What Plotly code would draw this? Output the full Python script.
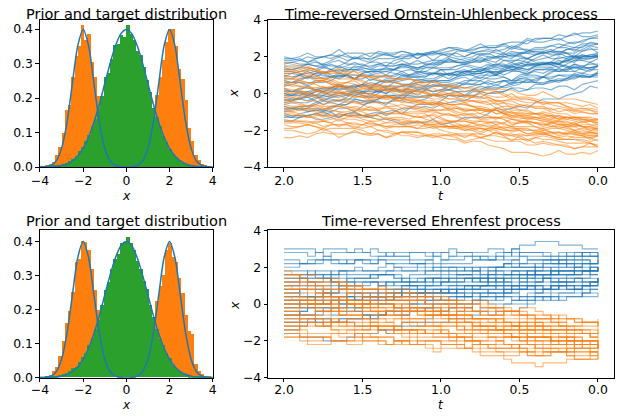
import plotly.graph_objects as go
import numpy as np

# ---------------- data ----------------
BIN_EDGES = [round(-3.9 + 0.15 * i, 3) for i in range(53)]

TARGET_HIST_TOP = [0.000, 0.003, 0.008, 0.015, 0.035, 0.058, 0.098, 0.165, 0.180, 0.262, 0.322, 0.352, 0.412,
                   0.368, 0.386, 0.305, 0.262, 0.205, 0.132, 0.078, 0.045, 0.020, 0.008, 0.003, 0.001, 0.000,
                   0.000, 0.001, 0.003, 0.007, 0.018, 0.040, 0.070, 0.118, 0.165, 0.210, 0.262, 0.310, 0.362,
                   0.400, 0.400, 0.352, 0.285, 0.255, 0.195, 0.112, 0.075, 0.035, 0.020, 0.008, 0.004, 0.001]
PRIOR_HIST_TOP = [0.001, 0.001, 0.002, 0.003, 0.004, 0.006, 0.009, 0.013, 0.018, 0.024, 0.033, 0.045, 0.058,
                  0.075, 0.092, 0.118, 0.138, 0.172, 0.205, 0.262, 0.272, 0.312, 0.355, 0.358, 0.382, 0.378,
                  0.412, 0.385, 0.368, 0.335, 0.325, 0.290, 0.252, 0.218, 0.170, 0.145, 0.118, 0.090, 0.072,
                  0.052, 0.038, 0.028, 0.020, 0.012, 0.008, 0.006, 0.004, 0.002, 0.001, 0.001, 0.000, 0.000]
TARGET_HIST_BOT = [0.000, 0.002, 0.006, 0.018, 0.030, 0.062, 0.105, 0.158, 0.195, 0.250, 0.338, 0.345, 0.400,
                   0.395, 0.372, 0.318, 0.255, 0.198, 0.140, 0.082, 0.040, 0.022, 0.009, 0.003, 0.001, 0.000,
                   0.000, 0.001, 0.002, 0.008, 0.016, 0.036, 0.075, 0.125, 0.158, 0.222, 0.268, 0.300, 0.372,
                   0.392, 0.352, 0.338, 0.290, 0.248, 0.182, 0.135, 0.128, 0.040, 0.018, 0.010, 0.003, 0.001]
PRIOR_HIST_BOT = [0.000, 0.001, 0.002, 0.002, 0.004, 0.007, 0.008, 0.012, 0.019, 0.026, 0.031, 0.044, 0.060,
                  0.072, 0.095, 0.115, 0.142, 0.168, 0.212, 0.255, 0.280, 0.318, 0.345, 0.362, 0.392, 0.395,
                  0.410, 0.392, 0.372, 0.340, 0.318, 0.282, 0.258, 0.212, 0.175, 0.140, 0.112, 0.093, 0.070,
                  0.055, 0.036, 0.027, 0.019, 0.013, 0.009, 0.005, 0.003, 0.002, 0.001, 0.001, 0.000, 0.000]

DENS_X = [-4.0, -3.75, -3.5, -3.25, -3.0, -2.75, -2.5, -2.25, -2.0, -1.75, -1.5, -1.25, -1.0, -0.75, -0.5,
          -0.25, 0.0, 0.25, 0.5, 0.75, 1.0, 1.25, 1.5, 1.75, 2.0, 2.25, 2.5, 2.75, 3.0, 3.25, 3.5, 3.75, 4.0]
TARGET_DENS = [0.0001, 0.0009, 0.0044, 0.0175, 0.0540, 0.1295, 0.2420, 0.3520, 0.3989, 0.3520, 0.2420, 0.1295,
               0.0540, 0.0175, 0.0044, 0.0009, 0.0003, 0.0009, 0.0044, 0.0175, 0.0540, 0.1295, 0.2420, 0.3520,
               0.3989, 0.3520, 0.2420, 0.1295, 0.0540, 0.0175, 0.0044, 0.0009, 0.0001]
PRIOR_DENS = [0.0001, 0.0004, 0.0009, 0.0020, 0.0044, 0.0091, 0.0175, 0.0317, 0.0540, 0.0863, 0.1295, 0.1826,
              0.2420, 0.3011, 0.3521, 0.3867, 0.3989, 0.3867, 0.3521, 0.3011, 0.2420, 0.1826, 0.1295, 0.0863,
              0.0540, 0.0317, 0.0175, 0.0091, 0.0044, 0.0020, 0.0009, 0.0004, 0.0001]

# sample paths, run from t = 2.0 down to t = 0.0; start value in tenths of x, then 40 increments,
# digit d meaning (d - 4) tenths
T_START, T_END = 2.0, 0.0

OU_BLUE_START = [20, 13, 5, -3, -10, 0, 9, -15, 17, 3, -6, 11, 7, -1, 16, -12, 4, -7,
                 14, 1, 19, -4, 8, -2, 12, -9, 6, 10, -5, 2, 15, -13, -8, 18, 0, -11]
OU_BLUE_STEPS = [
    "3562457126543344631752463526734244532761", "4563534672364464275463355545267354366245",
    "5426457334634562553644632753462554376245", "3645625543642754357346526345265437447255",
    "5546633673445427643545736255365446724364", "3462164553367244556326544635274364534536",
    "6327455373364454624635556372256445265473", "4655366427734543556354374662557236446445",
    "4563553644273453166245265433634535274354", "2643543562457334554663442752643645257354",
    "5446635536276445733546556344723754266455", "4553366244256354354672445327364355624534",
    "3654624573442735346316455364253644524337", "4536556246275473446355364564267243553754",
    "5345366255274463354654336445267345523655", "3452456344365527644673543645625543642755",
    "5536466327544573356444456237542655434663", "3425431652334325446155644673553764465573",
    "3543622645345363174445533625624454433526", "4562365444632755354653644526375444637236",
    "4335165244265362455463352744533662451634", "5436456273445526634535644653275536445472",
    "4655633645642754734555366246543744635545", "3452264543366254446355274635645345367244",
    "4326523544165362455434634526532744366245", "5546643673455527645446635537446445733655",
    "4563543627554464354662457336544355642745", "3562435426455334634436524527633544541645",
    "5564467355366455453746556364375546365464", "3426455343623644542563455527443653644535",
    "4453362562453453274463354652443662454354", "4655366473455546276455376446547355366445",
    "4354364562552764354653456336554472544637", "4526536334456236445427435535632645533644",
    "3645546246733555446327544635645345365545", "3445523643552664453655467354643745556346",
]
OU_ORANGE_START = [-20, 10, -5, 3, 17, -12, 6, -1, -17, 12, -8, 1, -24, 8, -3, -14, 4, -10,
                   15, -6, 0, -19, 9, -2, 5, 13, -9, 2, -15, 7, -4, 11, -7, -11, 14, -16]
OU_ORANGE_STEPS = [
    "4335621653442563345435264362174552336444", "3452432562334416523543245334614325443352",
    "4335245334622543441652334425633442532534", "3425436233445224354315345342254334623352",
    "3342253451432433524234244315335242342443", "4435432652346325433524533462254433534326",
    "4534524326334425433452243543163442532534", "3543245334624325334452344326245334423543",
    "3453254443263354423543255334442453433562", "4553346243253344245243342553423462244333",
    "3543263453254443346224433552344425433353", "3443255233442453433442352443155334254233",
    "4536534462352654433453443562432653344435", "4334522533444235245334254315423353243443",
    "3645534434254362335234432624533543254434", "3443254433524324354334254233244335624536",
    "5334454326355243442534436224533443332542", "4335263453442543623443245335344253254335",
    "3443255233424424533443253352244334422533", "3425433352442443353442335324432534334442",
    "4536433452254433432634432453253442354333", "4553364426355443623445365344274335542645",
    "3452432633442543342453433524423344254334", "4334255343244435335243253453244235433344",
    "3443523325444235244333254352243433425325", "3342342451432533423424334315423433244342",
    "3543245334432633524434254342353453244333", "3643253453424435244334523343254434245333",
    "4435436234532544364334532643453452354344", "3443245233432534423533244352342543334234",
    "4325345333442443354234432533522443353442", "4553344326345244334325344333244333423443",
    "3544264353346225444334532544334326345243", "4334255343243543345233442543344253342544",
    "3342253443243352423424433351344225433324", "4435532643623444533543342653442535436234",
]
EHR_BLUE_START = [28, 14, 2, -6, 8, -14, 18, 0, 10, -10, 24, 4, -2, 12, -16, 6, -4, 16,
                  2, 20, -8, 10, -12, 8, 0, 22, -6, 14, 4, -2, 16, 6, -10, 12, 2, 30]
EHR_BLUE_STEPS = [
    "4426644244622446442662424464264442624624", "4644266444466244642644466266664644244244",
    "4446622464442646426444264662644246442666", "4664442646626442464464462644646246246446",
    "4462462664444246626446442664424662446426", "4664264644646246644266464464264664624644",
    "4426426462444624624464264446624264442646", "4264462644644662444626644446246462464464",
    "4462462444642642466244462664446246246446", "4642446446266444462464466244644626644246",
    "4244642644466242442664424462462444266442", "4446626424464464264664444246626446442664",
    "4442466426444246626446446426464264624644", "4662424426426444462444624626424464246246",
    "4244244664462664464464466264466664264664", "4644266442466462464464462664444662644642",
    "4246644426464264466246644446626446422466", "4224466244644224464426426446446246644224",
    "4244466426424664446246446426466244644244", "4664424462462444422644422664444246626424",
    "4644624642446426466444466426426446446264", "4664422644422446446246642644464264444662",
    "4664424424424664466446626446446642644644", "4224466444424664264664444662644644466426",
    "4662644244462444642646644246446426464264", "4446624264264442466244642446624442644644",
    "4664444626644662644446644662644644646646", "4424624644644226444662424644642642644446",
    "4442264662446424464462464442644626644446", "4644642646624464464264464462466446446446",
    "4462464244266444424644642646424464624624", "4244624644244664264446426444264662446442",
    "4446426446266446446446626446426446644466", "4644624264464426466442446446266444466246",
    "4446644226464464424664444662466424464464", "4442264462244644426426444642624424464442",
]
EHR_ORANGE_START = [-18, 16, -6, 4, -12, 10, 0, -14, 18, -2, 6, -10, 12, -4, 2, -16, 8, -8,
                    14, -6, 0, -18, 6, -12, 2, 10, -8, 4, -14, 12, -4, 8, -10, 16, -2, 0]
EHR_ORANGE_STEPS = [
    "4424624246442642644442624424464244266442", "4224442262422446422442262442442242244642",
    "4244262442624424424624424426422444624224", "2442442642244642244442224424624224444226",
    "4224444426244244264244222442244264464462", "4244246242244442244642244422422624424424",
    "4442262442462442442442262442442442622442", "4224424446422462422644442442462446442462",
    "2442442242462442264224444224224246244244", "4462422446424424422642244442262442442442",
    "4224464224444226244244422462422442442246", "4644422442624442244426422444422646422444",
    "4244244226422444422442224424424624422442", "4642442442442624424442622442442442462422",
    "4446624244244226424424424442262442444246", "4244462462444246244244264224444264422446",
    "4442244642442624424424424642244442262442", "4244264224464244246242244442264224464424",
    "4224464224442242462442442422422642244442", "4442244642244244264224422244422446422444",
    "4642446224424426422442442442462442224442", "4224464462424624442642462444622446426444",
    "4244244246244226444224424422424624424424", "4462424424464226442442442462424624424426",
    "4424424626422444426224444224464224444224", "2442224442244642244222424424422442462242",
    "4446422644244262444224464244242642442462", "4224442642244642244442242244424624422444",
    "4644422644622446424442244644422624464244", "4442244642442442264224444224464222442442",
    "4246442442264442244442244642244442242642", "4424422246424424422642244442224624424424",
    "4442624624444226424424464244246242442446", "4224442242244642224424422446422244422442",
    "4644422462424424464224424426422442442442", "4446426244244642442642442446422444624246",
]

TITLE_LEFT = "Prior and target distribution"
TITLE_OU = "Time-reversed Ornstein-Uhlenbeck process"
TITLE_EHR = "Time-reversed Ehrenfest process"

# ---------------- figure ----------------
W, H = 618, 416
BLUE, ORANGE, GREEN = "#1f77b4", "#ff7f0e", "#2ca02c"
FONT = "DejaVu Sans"

edges = np.array(BIN_EDGES)
centers = (edges[:-1] + edges[1:]) / 2
widths = np.diff(edges)

fig = go.Figure()


def add_hist(target, prior, xa, ya):
    fig.add_trace(go.Bar(x=centers, y=target, width=widths, marker=dict(color=ORANGE, line=dict(width=0)),
                         xaxis=xa, yaxis=ya, showlegend=False, hoverinfo="skip"))
    fig.add_trace(go.Bar(x=centers, y=prior, width=widths, marker=dict(color=GREEN, line=dict(width=0)),
                         xaxis=xa, yaxis=ya, showlegend=False, hoverinfo="skip"))
    for dens in (TARGET_DENS, PRIOR_DENS):
        fig.add_trace(go.Scatter(x=DENS_X, y=dens, mode="lines",
                                 line=dict(color=BLUE, width=1.5, shape="spline", smoothing=0.8),
                                 xaxis=xa, yaxis=ya, showlegend=False, hoverinfo="skip"))


def path_values(start, steps):
    vals = [start] + [int(c) - 4 for c in steps]
    return np.cumsum(vals) / 10.0


def add_paths(groups, xa, ya, shape):
    for starts, steps, col in groups:
        for s, st in zip(starts, steps):
            y = path_values(s, st)
            t = np.linspace(T_START, T_END, len(y))
            fig.add_trace(go.Scatter(x=t, y=y, mode="lines", line=dict(color=col, width=1.15, shape=shape),
                                     xaxis=xa, yaxis=ya, showlegend=False, hoverinfo="skip"))


BLUE_A = "rgba(31,119,180,0.55)"
ORANGE_A = "rgba(255,127,14,0.55)"

add_hist(TARGET_HIST_TOP, PRIOR_HIST_TOP, "x", "y")
add_paths([(OU_BLUE_START, OU_BLUE_STEPS, BLUE_A), (OU_ORANGE_START, OU_ORANGE_STEPS, ORANGE_A)],
          "x2", "y2", "linear")
add_hist(TARGET_HIST_BOT, PRIOR_HIST_BOT, "x3", "y3")
add_paths([(EHR_BLUE_START, EHR_BLUE_STEPS, BLUE_A), (EHR_ORANGE_START, EHR_ORANGE_STEPS, ORANGE_A)],
          "x4", "y4", "hv")

# layout geometry, in figure pixels (the viewer insets the page by 8 px and shrinks it slightly)
SX, SY, INSET = 0.979, 0.962, 8.0


def gx(v):
    return (v - INSET) / SX


def gy(v):
    return (v - INSET) / SY


LX0, LX1 = gx(39.0), gx(211.7)
RX0, RX1 = gx(267.3), min(gx(612.7), W - 0.3)
TY0, TY1 = gy(20.0), gy(166.7)
BY0, BY1 = gy(230.0), gy(376.9)


def px(x):
    return x / W


def py(y):
    return 1 - y / H


axis_common = dict(showline=True, linecolor="black", linewidth=1, mirror=True, ticks="outside", ticklen=3.6,
                   tickwidth=0.8, tickcolor="black", showgrid=False, zeroline=False,
                   tickfont=dict(family=FONT, size=12.4, color="black"))
xaxis_top = dict(axis_common, ticklabelstandoff=-2)
xaxis_bot = dict(axis_common, ticklabelstandoff=-3)

fig.update_layout(
    width=W, height=H, margin=dict(l=0, r=0, t=0, b=0, pad=0), autosize=False,
    paper_bgcolor="white", plot_bgcolor="white", barmode="overlay", bargap=0,
    font=dict(family=FONT, size=12, color="black"),
    xaxis=dict(domain=[px(LX0), px(LX1)], anchor="y", range=[-4, 4], tickvals=[-4, -2, 0, 2, 4], **xaxis_top),
    yaxis=dict(domain=[py(TY1), py(TY0)], anchor="x", range=[0, 0.4262], tickvals=[0, 0.1, 0.2, 0.3, 0.4],
               tickformat=".1f", **axis_common),
    xaxis2=dict(domain=[px(RX0), px(RX1)], anchor="y2", range=[2.1, -0.1], tickvals=[2, 1.5, 1, 0.5, 0],
                tickformat=".1f", **xaxis_top),
    yaxis2=dict(domain=[py(TY1), py(TY0)], anchor="x2", range=[-4, 4], tickvals=[-4, -2, 0, 2, 4], **axis_common),
    xaxis3=dict(domain=[px(LX0), px(LX1)], anchor="y3", range=[-4, 4], tickvals=[-4, -2, 0, 2, 4], **xaxis_bot),
    yaxis3=dict(domain=[py(BY1), py(BY0)], anchor="x3", range=[0, 0.4314], tickvals=[0, 0.1, 0.2, 0.3, 0.4],
                tickformat=".1f", **axis_common),
    xaxis4=dict(domain=[px(RX0), px(RX1)], anchor="y4", range=[2.1, -0.1], tickvals=[2, 1.5, 1, 0.5, 0],
                tickformat=".1f", **xaxis_bot),
    yaxis4=dict(domain=[py(BY1), py(BY0)], anchor="x4", range=[-4, 4], tickvals=[-4, -2, 0, 2, 4], **axis_common),
)

ann = []


def text(x, y, s, size, angle=0):
    ann.append(dict(x=px(x), y=py(y), xref="paper", yref="paper", text=s, showarrow=False, xanchor="center",
                    yanchor="middle", textangle=angle, font=dict(family=FONT, size=size, color="black")))


lc = (LX0 + LX1) / 2
rc = (RX0 + RX1) / 2
text(lc, 6.4, TITLE_LEFT, 14.5)
text(rc, 6.4, TITLE_OU, 14.5)
text(lc, gy(220.5), TITLE_LEFT, 14.5)
text(rc, gy(220.5), TITLE_EHR, 14.5)
text(lc, gy(195.5), "<i>x</i>", 12.4)
text(rc, gy(195.5), "<i>t</i>", 12.4)
text(lc, 412.3, "<i>x</i>", 12)
text(rc, 412.3, "<i>t</i>", 12)
text(gx(233), gy(92.5), "<i>x</i>", 12.4, -90)
text(gx(233), gy(304.5), "<i>x</i>", 12.4, -90)
fig.update_layout(annotations=ann)

NO_MARGIN_JS = ("document.documentElement.style.margin='0';document.documentElement.style.padding='0';"
                "document.body.style.margin='0';document.body.style.padding='0';"
                "document.documentElement.style.overflow='hidden';document.body.style.overflow='hidden';")

fig.write_html("out.html", config={"displayModeBar": False}, post_script=NO_MARGIN_JS)
